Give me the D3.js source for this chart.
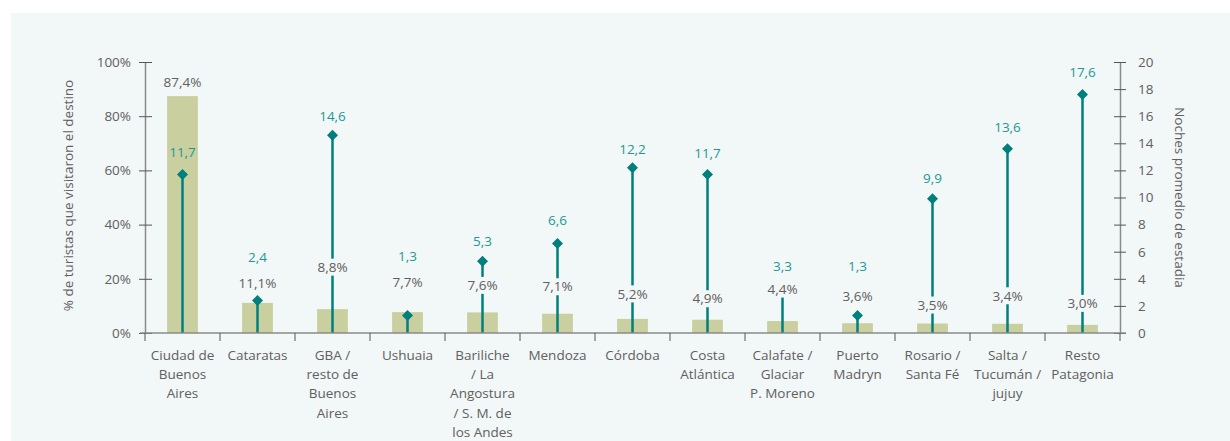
<!DOCTYPE html>
<html><head><meta charset="utf-8">
<script src="https://cdn.jsdelivr.net/npm/d3@7"></script>
<style>
html,body{margin:0;padding:0;background:#ffffff;}
svg{display:block;}
text{font-family:"Open Sans","Noto Sans",sans-serif;}
</style></head>
<body>
<script>
const categories = [
  "Ciudad de|Buenos|Aires", "Cataratas", "GBA /|resto de|Buenos|Aires", "Ushuaia",
  "Bariliche|/ La|Angostura|/ S. M. de|los Andes", "Mendoza", "Córdoba", "Costa|Atlántica",
  "Calafate /|Glaciar|P. Moreno", "Puerto|Madryn", "Rosario /|Santa Fé", "Salta /|Tucumán /|jujuy",
  "Resto|Patagonia"
];
const pctVisited = [87.4, 11.1, 8.8, 7.7, 7.6, 7.1, 5.2, 4.9, 4.4, 3.6, 3.5, 3.4, 3.0];
const nights = [11.7, 2.4, 14.6, 1.3, 5.3, 6.6, 12.2, 11.7, 3.3, 1.3, 9.9, 13.6, 17.6];
const leftTicks = [0, 20, 40, 60, 80, 100];
const rightTicks = [0, 2, 4, 6, 8, 10, 12, 14, 16, 18, 20];
const leftTitle = "% de turistas que visitaron el destino";
const rightTitle = "Noches promedio de estadia";

// layout: label lifts (px) as placed in the original
const pctLabelLift = [14, 20, 42, 30, 27, 27, 25, 21, 32, 27, 18.5, 28, 21.5];
const nightLabelLift = [22, 43, 19, 59, 20, 23, 18, 21, 22, 49, 21, 21, 22];

const W = 1230, H = 441;
const m = {left:145, right:110, top:62, bottom:108};
const svg = d3.select("body").append("svg").attr("width", W).attr("height", H);
svg.append("rect").attr("x", 11).attr("y", 13).attr("width", W - 11).attr("height", H - 13).attr("fill", "#f2f7f7");

const x = d3.scaleBand().domain(d3.range(categories.length)).range([m.left, W - m.right]).paddingInner(0).paddingOuter(0);
const yL = d3.scaleLinear().domain([0, 100]).range([H - m.bottom, m.top]);
const yR = d3.scaleLinear().domain([0, 20]).range([H - m.bottom, m.top]);
const bw = x.bandwidth() * 0.41;
const cx = i => x(i) + x.bandwidth() / 2;
const axisCol = "#8a8a8a", txtCol = "#606060", teal = "#007f7c", tealTxt = "#1f9893", barCol = "#cacf9f";
const fs = 13.5;

// bars
svg.append("g").selectAll("rect").data(pctVisited).join("rect")
  .attr("x", (d, i) => cx(i) - bw / 2).attr("width", bw)
  .attr("y", d => yL(d)).attr("height", d => yL(0) - yL(d)).attr("fill", barCol);

// stems
svg.append("g").selectAll("line").data(nights).join("line")
  .attr("x1", (d, i) => cx(i)).attr("x2", (d, i) => cx(i))
  .attr("y1", yR(0)).attr("y2", d => yR(d))
  .attr("stroke", teal).attr("stroke-width", 2.5);

// diamonds
const r = 5.5;
svg.append("g").selectAll("path").data(nights).join("path")
  .attr("transform", (d, i) => `translate(${cx(i)},${yR(d)})`)
  .attr("d", `M0,${-r}L${r},0L0,${r}L${-r},0Z`).attr("fill", teal);

// pct labels with background
const pg = svg.append("g");
pctVisited.forEach((d, i) => {
  const yc = yL(d) - pctLabelLift[i];
  const g = pg.append("g");
  const t = g.append("text").attr("x", cx(i)).attr("y", yc).attr("dy", "0.35em")
    .attr("text-anchor", "middle").attr("font-size", fs).attr("fill", txtCol)
    .text(d.toFixed(1).replace(".", ",") + "%");
  const bb = t.node().getBBox();
  g.insert("rect", "text").attr("x", bb.x - 1).attr("y", yc - 8.5).attr("width", bb.width + 2).attr("height", 17).attr("fill", "#f2f7f7");
});

// nights labels
svg.append("g").selectAll("text").data(nights).join("text")
  .attr("x", (d, i) => cx(i)).attr("y", (d, i) => yR(d) - nightLabelLift[i]).attr("dy", "0.35em")
  .attr("text-anchor", "middle").attr("font-size", fs).attr("fill", tealTxt)
  .text(d => d.toFixed(1).replace(".", ","));

// left axis
const gl = svg.append("g").attr("transform", `translate(${m.left},0)`)
  .call(d3.axisLeft(yL).tickValues(leftTicks).tickFormat(d => d + "%").tickSizeInner(6).tickSizeOuter(0).tickPadding(8));
gl.selectAll(".tick line").attr("x2", 7).attr("x1", -6);
// right axis
const gr = svg.append("g").attr("transform", `translate(${W - m.right},0)`)
  .call(d3.axisRight(yR).tickValues(rightTicks).tickSizeInner(6).tickSizeOuter(0).tickPadding(12));
gr.selectAll(".tick line").attr("x1", -6).attr("x2", 6);
// bottom axis
const gb = svg.append("g").attr("transform", `translate(0,${yL(0)})`)
  .call(d3.axisBottom(x).tickSize(0).tickFormat(""));
gb.select(".domain").attr("d", `M${m.left - 5},0H${W - m.right + 6}`);
gb.selectAll(".tick").remove();
gb.selectAll("line.sep").data(d3.range(categories.length + 1)).join("line").attr("class", "sep")
  .attr("x1", i => m.left + i * x.bandwidth()).attr("x2", i => m.left + i * x.bandwidth())
  .attr("y1", 0).attr("y2", 8).attr("stroke", "#555").attr("stroke-width", 1);

[gl, gr, gb].forEach(g => {
  g.select(".domain").attr("stroke", axisCol).attr("stroke-width", 1.5);
  g.selectAll(".tick line").attr("stroke", "#555");
  g.selectAll(".tick text").attr("font-size", fs).attr("fill", txtCol).attr("font-family", '"Open Sans","Noto Sans",sans-serif');
});

// category labels
const cg = svg.append("g");
categories.forEach((c, i) => {
  const t = cg.append("text").attr("x", cx(i)).attr("y", 355).attr("dy", "0.35em")
    .attr("text-anchor", "middle").attr("font-size", fs).attr("fill", txtCol);
  c.split("|").forEach((ln, k) => {
    t.append("tspan").attr("x", cx(i)).attr("dy", k === 0 ? "0.35em" : "19.3px").text(ln);
  });
});

// titles
svg.append("text").attr("transform", `translate(68,${(yL(0) + yL(100)) / 2 - 2}) rotate(-90)`)
  .attr("text-anchor", "middle").attr("font-size", fs).attr("fill", txtCol).attr("dy", "0.35em").text(leftTitle);
svg.append("text").attr("transform", `translate(1180,${(yL(0) + yL(100)) / 2}) rotate(90)`)
  .attr("text-anchor", "middle").attr("font-size", fs).attr("fill", txtCol).attr("dy", "0.35em").text(rightTitle);
</script>
</body></html>
